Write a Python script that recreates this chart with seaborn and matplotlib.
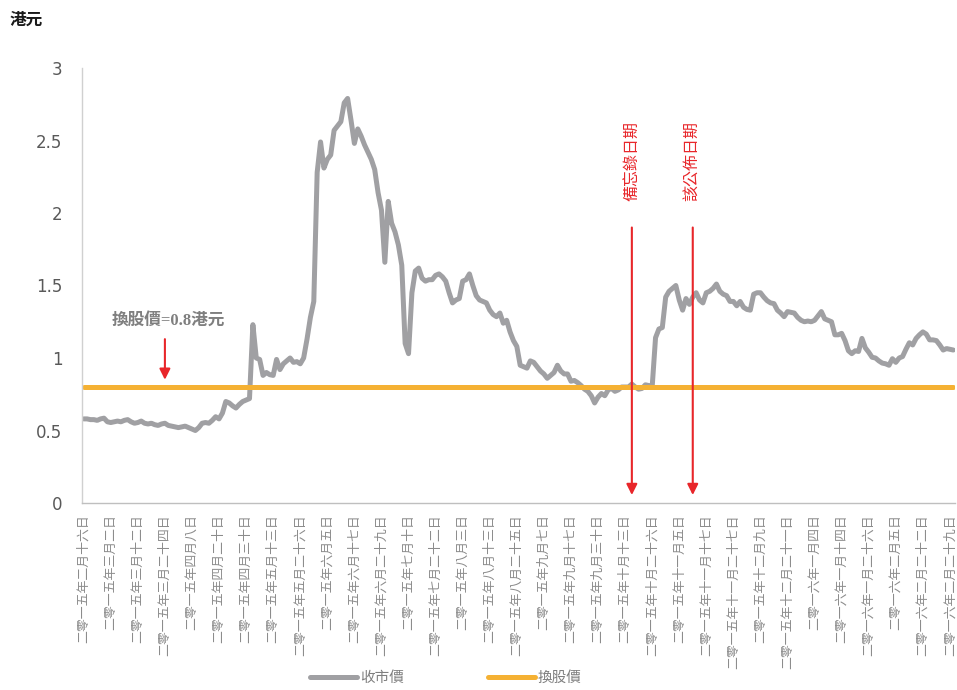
import matplotlib
matplotlib.use("Agg")
import matplotlib.pyplot as plt
import seaborn as sns
import pandas as pd
import numpy as np

# ---------------- data ----------------
close_price = [
    0.58, 0.58, 0.575, 0.575, 0.57, 0.58, 0.585, 0.56, 0.555, 0.56,
    0.565, 0.56, 0.57, 0.575, 0.56, 0.55, 0.555, 0.565, 0.55, 0.545,
    0.55, 0.54, 0.535, 0.545, 0.55, 0.535, 0.53, 0.525, 0.52, 0.525,
    0.53, 0.52, 0.51, 0.50, 0.52, 0.55, 0.555, 0.55, 0.57, 0.595,
    0.58, 0.62, 0.70, 0.69, 0.67, 0.655, 0.68, 0.70, 0.71, 0.72,
    1.23, 1.0, 0.99, 0.88, 0.90, 0.885, 0.88, 0.99, 0.92, 0.96,
    0.98, 1.0, 0.97, 0.975, 0.96, 1.0, 1.13, 1.28, 1.39, 2.28,
    2.49, 2.31, 2.37, 2.40, 2.57, 2.60, 2.63, 2.76, 2.79, 2.64,
    2.48, 2.58, 2.53, 2.47, 2.42, 2.37, 2.30, 2.14, 2.02, 1.66,
    2.08, 1.93, 1.87, 1.78, 1.64, 1.10, 1.03, 1.45, 1.60, 1.62,
    1.55, 1.53, 1.54, 1.54, 1.57, 1.58, 1.56, 1.53, 1.45, 1.38,
    1.40, 1.41, 1.53, 1.54, 1.58, 1.50, 1.43, 1.40, 1.39, 1.38,
    1.33, 1.30, 1.285, 1.31, 1.24, 1.26, 1.18, 1.12, 1.08, 0.95,
    0.94, 0.93, 0.98, 0.97, 0.94, 0.91, 0.89, 0.86, 0.88, 0.90,
    0.95, 0.91, 0.89, 0.89, 0.84, 0.845, 0.83, 0.81, 0.785, 0.77,
    0.74, 0.69, 0.73, 0.755, 0.74, 0.78, 0.79, 0.77, 0.78, 0.80,
    0.80, 0.80, 0.82, 0.80, 0.785, 0.79, 0.815, 0.81, 0.80, 1.14,
    1.20, 1.21, 1.42, 1.46, 1.48, 1.50, 1.40, 1.33, 1.41, 1.37,
    1.42, 1.45, 1.40, 1.38, 1.45, 1.46, 1.48, 1.51, 1.46, 1.44,
    1.43, 1.39, 1.39, 1.36, 1.39, 1.35, 1.335, 1.33, 1.44, 1.45,
    1.45, 1.42, 1.395, 1.38, 1.375, 1.33, 1.31, 1.285, 1.32, 1.315,
    1.31, 1.28, 1.26, 1.25, 1.255, 1.25, 1.26, 1.29, 1.32, 1.27,
    1.26, 1.25, 1.16, 1.16, 1.17, 1.12, 1.05, 1.03, 1.05, 1.045,
    1.135, 1.07, 1.04, 1.005, 1.0, 0.98, 0.965, 0.96, 0.95, 0.995,
    0.97, 1.0, 1.01, 1.06, 1.105, 1.09, 1.135, 1.16, 1.18, 1.165,
    1.125, 1.125, 1.12, 1.09, 1.055, 1.065, 1.06, 1.055,
]
conversion_price = 0.8

tick_labels = [
    "二零一五年二月十六日", "二零一五年三月二日", "二零一五年三月十二日",
    "二零一五年三月二十四日", "二零一五年四月八日", "二零一五年四月二十日",
    "二零一五年四月三十日", "二零一五年五月十三日", "二零一五年五月二十六日",
    "二零一五年六月五日", "二零一五年六月十七日", "二零一五年六月二十九日",
    "二零一五年七月十日", "二零一五年七月二十二日", "二零一五年八月三日",
    "二零一五年八月十三日", "二零一五年八月二十五日", "二零一五年九月七日",
    "二零一五年九月十七日", "二零一五年九月三十日", "二零一五年十月十三日",
    "二零一五年十月二十六日", "二零一五年十一月五日", "二零一五年十一月十七日",
    "二零一五年十一月二十七日", "二零一五年十二月九日", "二零一五年十二月二十一日",
    "二零一六年一月四日", "二零一六年一月十四日", "二零一六年一月二十六日",
    "二零一六年二月五日", "二零一六年二月二十二日", "二零一六年二月二十九日",
]
tick_step = 8

memo_index = 162       # 備忘錄日期
announce_index = 180   # 該公佈日期
conv_note_index = 24   # 換股價 note arrow

y_ticks = [0, 0.5, 1, 1.5, 2, 2.5, 3]
y_tick_labels = ["0", "0.5", "1", "1.5", "2", "2.5", "3"]

# ---------------- style ----------------
sns.set_theme(style="white")
plt.rcParams["font.family"] = ["Noto Sans CJK TC", "DejaVu Sans"]

GRAY = "#a0a0a3"
ORANGE = "#f5b133"
RED = "#e8262a"

n = len(close_price)
df = pd.DataFrame({
    "idx": np.arange(n),
    "收市價": close_price,
    "換股價": [conversion_price] * n,
})

fig = plt.figure(figsize=(9.57, 6.90), dpi=100)
ax = fig.add_axes([82 / 957, 1 - 503 / 690, (955 - 82) / 957, (503 - 68) / 690])

sns.lineplot(data=df, x="idx", y="收市價", ax=ax, color=GRAY, linewidth=3.6,
             label="收市價", legend=False)
sns.lineplot(data=df, x="idx", y="換股價", ax=ax, color=ORANGE, linewidth=3.6,
             label="換股價", legend=False)

ax.set_xlim(-0.5, n - 0.5)
ax.set_ylim(0, 3)
ax.set_xlabel("")
ax.set_ylabel("")

ax.set_yticks(y_ticks)
ax.set_yticklabels(y_tick_labels, fontsize=12, color="#595959",
                   family=["DejaVu Sans"])
ticks = list(range(0, tick_step * len(tick_labels), tick_step))
ax.set_xticks(ticks)
ax.set_xticklabels(tick_labels, rotation=90, fontsize=9.3, color="#8c8c8c",
                   ha="center", va="top")
ax.tick_params(axis="both", length=0)
ax.tick_params(axis="y", pad=14)
ax.tick_params(axis="x", pad=8)

for s in ["top", "right"]:
    ax.spines[s].set_visible(False)
ax.spines["left"].set_color("#d0d0d0")
ax.spines["left"].set_linewidth(1.0)
ax.spines["bottom"].set_color("#bfbfbf")
ax.spines["bottom"].set_linewidth(1.0)

# unit label
fig.text(10 / 957, 1 - 20 / 690, "港元", fontsize=12, fontweight="bold",
         color="#1a1a1a", ha="left", va="center")

# conversion price note
ax.text(conv_note_index + 1, 1.26, "換股價=0.8港元", fontsize=12, fontweight="bold",
        color="#7f7f7f", ha="center", va="center",
        family=["Liberation Serif", "Noto Sans CJK TC"])
ax.annotate("", xy=(conv_note_index, 0.85), xytext=(conv_note_index, 1.13),
            arrowprops=dict(arrowstyle="-|>", color=RED, lw=1.5,
                            mutation_scale=16, shrinkA=0, shrinkB=0))

# event arrows
for idx, label in [(memo_index, "備忘錄日期"), (announce_index, "該公佈日期")]:
    ax.annotate("", xy=(idx, 0.055), xytext=(idx, 1.9),
                arrowprops=dict(arrowstyle="-|>", color=RED, lw=1.5,
                                mutation_scale=16, shrinkA=0, shrinkB=0))
    ax.text(idx, 2.36, label, rotation=90, fontsize=11.5, color=RED,
            ha="center", va="center")

# legend
handles, labels = ax.get_legend_handles_labels()
fig.legend(handles, labels, loc="center", bbox_to_anchor=(0.466, 0.017),
           ncol=2, frameon=False, fontsize=10.5, handlelength=3.2,
           columnspacing=5.8, handletextpad=0.2, labelcolor="#7f7f7f",
           borderpad=0.1)

fig.savefig("out.png", dpi=100)
